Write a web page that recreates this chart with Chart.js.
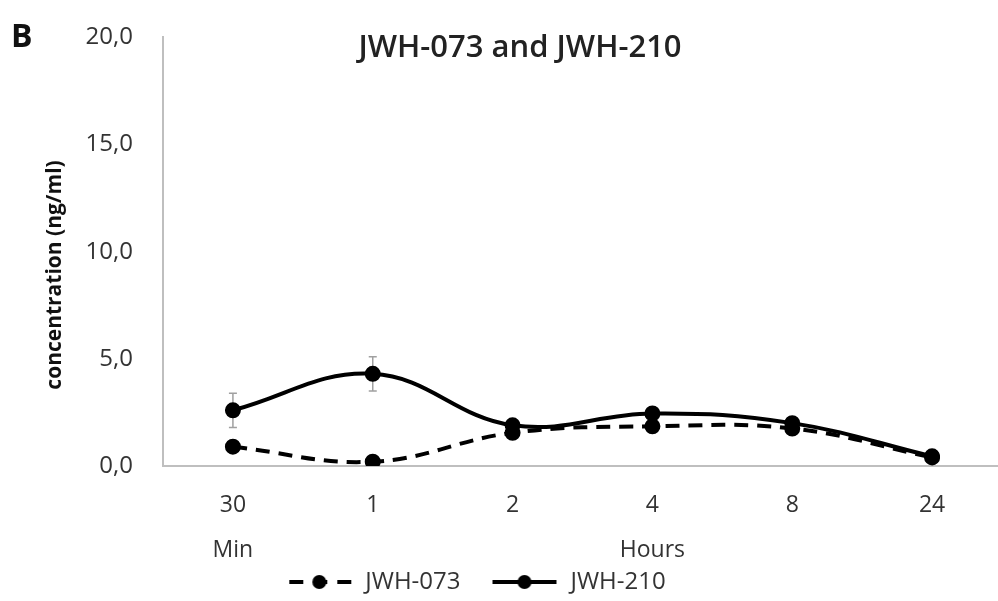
<!DOCTYPE html>
<html>
<head>
<meta charset="utf-8">
<script src="https://cdn.jsdelivr.net/npm/chart.js@4/dist/chart.umd.min.js"></script>
<style>
	html, body { margin: 0; padding: 0; background: #fff; overflow: hidden; }
	#wrap { width: 1012px; height: 608px; margin-top: -7px; }
</style>
</head>
<body>
<div id="wrap"><canvas id="chart"></canvas></div>
<script>
const categories = [['30', 'Min'], ['1', ''], ['2', ''], ['4', 'Hours'], ['8', ''], ['24', '']];
const jwh073 = [0.9, 0.2, 1.55, 1.85, 1.75, 0.4];
const jwh073Err = [0.2, 0.15, 0.25, 0.2, 0.2, 0.15];
const jwh210 = [2.6, 4.3, 1.9, 2.45, 2.0, 0.45];
const jwh210Err = [0.8, 0.8, 0.25, 0.2, 0.15, 0.15];
const yTicks = [0, 5, 10, 15, 20];

const font = '"Open Sans", "Liberation Sans", sans-serif';
const ink = '#333';
const shiftY = 7; // canvas is moved up by this much in the page

// legend sample: transparent gap, then a line with a dot in the middle
function legendSample(dashed) {
	let c = document.createElement('canvas'),
		ctx = c.getContext('2d');
	c.width = 98;
	c.height = 16;
	ctx.strokeStyle = '#000';
	ctx.lineWidth = 4;
	if (dashed) {
		ctx.setLineDash([14, 10]);
		ctx.lineDashOffset = -2;
	}
	ctx.beginPath();
	ctx.moveTo(32, 8);
	ctx.lineTo(96, 8);
	ctx.stroke();
	ctx.fillStyle = '#000';
	ctx.beginPath();
	ctx.arc(64, 8, 7, 0, Math.PI * 2);
	ctx.fill();
	return c;
}

const errorBars = {
	id: 'errorBars',
	beforeDatasetsDraw: function(chart) {
		let ctx = chart.ctx,
			x = chart.scales.x,
			y = chart.scales.y;
		ctx.save();
		ctx.strokeStyle = '#a0a0a0';
		ctx.lineWidth = 1.5;
		chart.data.datasets.forEach(function(ds) {
			ds.data.forEach(function(v, i) {
				let px = x.getPixelForValue(i),
					top = y.getPixelForValue(v + ds.err[i]),
					bot = y.getPixelForValue(Math.max(0, v - ds.err[i]));
				ctx.beginPath();
				ctx.moveTo(px, top);
				ctx.lineTo(px, bot);
				ctx.moveTo(px - 4, top);
				ctx.lineTo(px + 4, top);
				ctx.moveTo(px - 4, bot);
				ctx.lineTo(px + 4, bot);
				ctx.stroke();
			});
		});
		ctx.restore();
	}
};

// move the legend a little left and down, as in the original figure
const legendShift = {
	id: 'legendShift',
	afterLayout: function(chart) {
		chart.legend.left -= 66;
		chart.legend.right -= 66;
		chart.legend.top += 3;
		chart.legend.bottom += 3;
	}
};

const labels = {
	id: 'labels',
	afterDraw: function(chart) {
		let ctx = chart.ctx;
		ctx.save();
		ctx.textBaseline = 'middle';
		ctx.fillStyle = '#111';
		ctx.font = 'bold 32px ' + font;
		ctx.textAlign = 'left';
		ctx.fillText('B', 11, 38 + shiftY);

		ctx.font = '600 31px ' + font;
		ctx.fillStyle = '#222';
		ctx.textAlign = 'center';
		ctx.fillText('JWH-073 and JWH-210', 520, 48 + shiftY);

		ctx.translate(55, 275 + shiftY);
		ctx.rotate(-Math.PI / 2);
		ctx.font = 'bold 21px ' + font;
		ctx.fillStyle = '#111';
		ctx.fillText('concentration (ng/ml)', 0, 0);
		ctx.restore();
	}
};

new Chart(document.getElementById('chart'), {
	type: 'line',
	data: {
		labels: categories,
		datasets: [
			{
				label: 'JWH-073',
				data: jwh073,
				err: jwh073Err,
				borderColor: '#000',
				backgroundColor: '#000',
				borderWidth: 4,
				borderDash: [14, 9],
				tension: 0.4,
				pointRadius: 6,
				pointStyle: 'circle'
			},
			{
				label: 'JWH-210',
				data: jwh210,
				err: jwh210Err,
				borderColor: '#000',
				backgroundColor: '#000',
				borderWidth: 4,
				tension: 0.4,
				pointRadius: 6,
				pointStyle: 'circle'
			}
		]
	},
	plugins: [errorBars, legendShift, labels],
	options: {
		responsive: true,
		maintainAspectRatio: false,
		animation: false,
		layout: { padding: { top: 10, left: 44, right: 3, bottom: 0 } },
		plugins: {
			title: { display: false },
			tooltip: { enabled: false },
			legend: {
				position: 'bottom',
				labels: {
					usePointStyle: true,
					pointStyleWidth: 98,
					boxHeight: 16,
					padding: 0,
					color: ink,
					font: { family: font, size: 24, lineHeight: 1 },
					generateLabels: function(chart) {
						return chart.data.datasets.map(function(ds, i) {
							return {
								text: ds.label,
								datasetIndex: i,
								pointStyle: legendSample(!!ds.borderDash),
								fillStyle: '#000',
								strokeStyle: '#000',
								lineWidth: 0,
								fontColor: ink
							};
						});
					}
				}
			}
		},
		scales: {
			x: {
				offset: true,
				afterFit: function(scale) {
					scale.height = 101;
				},
				grid: { display: false, drawTicks: false },
				border: { color: '#bfbfbf', width: 2 },
				ticks: {
					color: ink,
					padding: 17,
					maxRotation: 0,
					autoSkip: false,
					font: { family: font, size: 23, lineHeight: 1.95 }
				}
			},
			y: {
				min: 0,
				max: 20,
				afterBuildTicks: function(scale) {
					scale.ticks = yTicks.map(function(v) { return { value: v }; });
				},
				afterFit: function(scale) {
					scale.width = 119;
				},
				grid: { display: false, drawTicks: false },
				border: { color: '#bfbfbf', width: 2 },
				ticks: {
					color: ink,
					padding: 30,
					font: { family: font, size: 24 },
					callback: function(v) { return v.toFixed(1).replace('.', ','); }
				},
				title: { display: false }
			}
		}
	}
});
</script>
</body>
</html>
